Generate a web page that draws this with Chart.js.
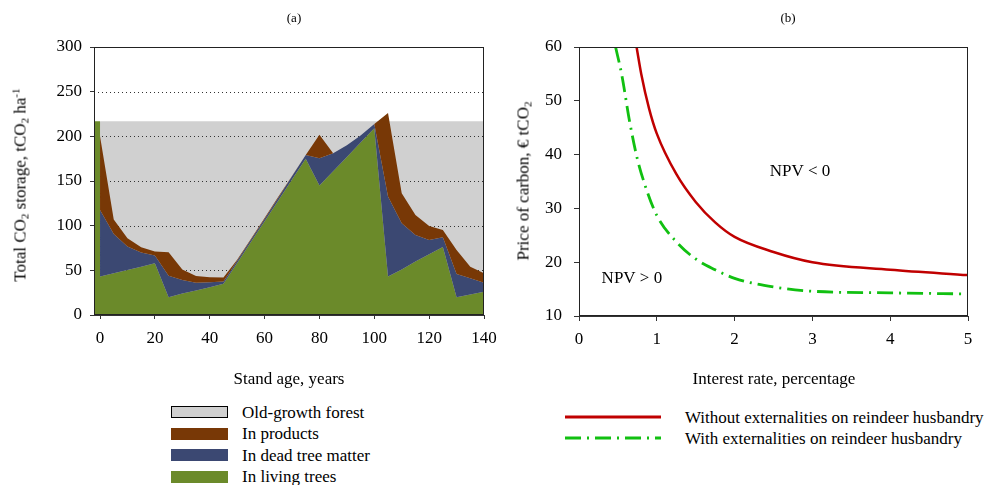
<!DOCTYPE html>
<html><head><meta charset="utf-8">
<script src="https://cdn.jsdelivr.net/npm/chart.js@4.4.0/dist/chart.umd.min.js"></script>
<style>
html,body{margin:0;padding:0;background:#fff;width:994px;height:485px;overflow:hidden;font-family:"Liberation Serif","Times New Roman",serif;color:#000;}
#wrap{position:relative;width:994px;height:485px;}
canvas{position:absolute;top:0;}
.lbl{position:absolute;white-space:nowrap;font-size:17px;line-height:1;transform:translate(-50%,-50%);}
.rot{transform:translate(-50%,-50%) rotate(-90deg);}
sub,sup{font-size:0.65em;line-height:0;}
sub{vertical-align:-0.3em;} sup{vertical-align:0.55em;}
.leg{position:absolute;font-size:17px;line-height:1;white-space:nowrap;}
.row{position:absolute;left:0;display:flex;align-items:center;}
.box{width:57px;height:12px;box-sizing:border-box;}
</style></head>
<body><div id="wrap">
<canvas id="c1" width="497" height="395" style="left:0"></canvas>
<canvas id="c2" width="497" height="395" style="left:497px"></canvas>
<div class="lbl" style="left:294px;top:17px;font-size:13px">(a)</div>
<div class="lbl" style="left:788px;top:17px;font-size:13px">(b)</div>
<div class="lbl rot" style="left:20px;top:185px">Total CO<sub>2</sub> storage, tCO<sub>2</sub> ha<sup>-1</sup></div>
<div class="lbl rot" style="left:523px;top:181px">Price of carbon, € tCO<sub>2</sub></div>
<div class="lbl" style="left:289px;top:378px">Stand age, years</div>
<div class="lbl" style="left:774px;top:378px">Interest rate, percentage</div>
<div class="leg" id="leg1" style="left:171px;top:0"></div>
<div class="leg" id="leg2" style="left:565px;top:0"></div>
</div>
<script>
// ---- Panel (a): CO2 storage by stand age ----
const ageYears = [0,5,10,15,20,25,30,35,40,45,50,55,60,65,70,75,80,85,90,95,100,105,110,115,120,125,130,135,140];
const livingTrees = [43,46.7,50.5,54,58,20,24,27.5,31,35,58.3,81.7,105,128.3,151.7,175,145,161,177,193,209,43,51,60,68,76,20,23,26];
const deadTreeMatter = [74.6,44.1,26.1,15.9,8.5,24,15.2,8.7,5.6,2.5,2.5,2.5,2.5,3,3.5,4,30.6,20,13,8,4.7,89.6,51.7,29.6,16,11,25.9,18,10.2];
const inProducts = [82.4,16.2,9.4,5.9,4.5,26.2,11.8,7.5,5.6,4.5,1,1,1,1,0.5,0,26.1,0,0,0,0,93.4,33.6,22.4,15.7,8.2,26.9,13,10.5];
const oldGrowthStock = 217;
const ageTicks = [0,20,40,60,80,100,120,140];
const storageTicks = [0,50,100,150,200,250,300];
const seriesNamesA = ['Old-growth forest','In products','In dead tree matter','In living trees'];

// ---- Panel (b): carbon price vs interest rate ----
const rateWithout = [0.74,0.8,0.9,1,1.25,1.5,1.75,2,2.5,3,4,5];
const priceWithout = [60,55,48.6,43.9,36.4,31.2,27.4,24.7,21.9,20.0,18.6,17.6];
const rateWith = [0.47,0.55,0.65,0.75,0.87,1,1.25,1.5,1.75,2,2.5,3,4,5];
const priceWith = [60,54.8,46.2,39.2,33.4,28.7,23.8,20.6,18.6,17.0,15.4,14.6,14.3,14.1];
const rateTicks = [0,1,2,3,4,5];
const priceTicks = [10,20,30,40,50,60];
const seriesNamesB = ['Without externalities on reindeer husbandry','With externalities on reindeer husbandry'];
const regionLabels = [{text:'NPV < 0', x:2.84, y:36.8},{text:'NPV > 0', x:0.68, y:17}];

const FONT = "'Liberation Serif','Times New Roman',serif";
const COL = {gray:'#d0d0d0', brown:'#783806', blue:'#3b4872', green:'#6b8a2a', red:'#c00000', lime:'#11c011'};
Chart.defaults.font.family = FONT;
Chart.defaults.color = '#000';

const ageMin = -2.2;
const blueTop = livingTrees.map((v,i)=>v+deadTreeMatter[i]);
const brownTop = blueTop.map((v,i)=>v+inProducts[i]);
const pre = [{x:ageMin,y:oldGrowthStock},{x:0,y:oldGrowthStock}];
const pts = arr => pre.concat(ageYears.map((a,i)=>({x:a,y:arr[i]})));

function fixX(h){ return s => { s.height = h; s.paddingLeft = 0; s.paddingRight = 0; }; }
function fixY(w){ return s => { s.width = w; s.paddingTop = 0; s.paddingBottom = 0; }; }
const setTicks = vals => s => { s.ticks = vals.map(v=>({value:v})); };

const frame = {
  id:'frame',
  afterDatasetsDraw(chart){
    const {ctx, chartArea:a} = chart;
    ctx.save(); ctx.strokeStyle = '#222'; ctx.lineWidth = 1;
    ctx.strokeRect(Math.round(a.left)+0.5, Math.round(a.top)+0.5, Math.round(a.right-a.left)-1, Math.round(a.bottom-a.top)-1);
    ctx.restore();
  }
};
const dottedGrid = {
  id:'dottedGrid',
  afterDatasetDraw(chart, args){
    if (args.index !== 3) return;
    const {ctx, chartArea:a, scales:{y}} = chart;
    ctx.save(); ctx.strokeStyle = '#333'; ctx.lineWidth = 1; ctx.setLineDash([1,3]);
    storageTicks.slice(1,-1).forEach(v=>{
      const py = Math.round(y.getPixelForValue(v)) + 0.5;
      ctx.beginPath(); ctx.moveTo(a.left, py); ctx.lineTo(a.right, py); ctx.stroke();
    });
    ctx.restore();
  }
};
const regionText = {
  id:'regionText',
  afterDatasetsDraw(chart){
    const {ctx, scales:{x,y}} = chart;
    ctx.save(); ctx.font = '17px ' + FONT; ctx.fillStyle = '#000';
    ctx.textAlign = 'center'; ctx.textBaseline = 'middle';
    regionLabels.forEach(l => ctx.fillText(l.text, x.getPixelForValue(l.x), y.getPixelForValue(l.y)));
    ctx.restore();
  }
};

const axisCommon = (tickLen, pad) => ({
  border:{display:true, color:'#333', width:1},
  grid:{drawOnChartArea:false, drawTicks:true, tickLength:tickLen, color:'#333'},
  ticks:{font:{size:17, family:FONT}, color:'#000', padding:pad, autoSkip:false, maxRotation:0}
});

new Chart(document.getElementById('c1'), {
  type:'line',
  data:{datasets:[
    {label:seriesNamesA[1], data:pts(brownTop), backgroundColor:COL.brown, fill:'+1', borderWidth:0, pointRadius:0, tension:0},
    {label:seriesNamesA[2], data:pts(blueTop), backgroundColor:COL.blue, fill:'+1', borderWidth:0, pointRadius:0, tension:0},
    {label:seriesNamesA[3], data:pts(livingTrees), backgroundColor:COL.green, fill:'origin', borderWidth:0, pointRadius:0, tension:0},
    {label:seriesNamesA[0], data:[{x:0,y:oldGrowthStock},{x:ageYears[ageYears.length-1],y:oldGrowthStock}], backgroundColor:COL.gray, fill:'origin', borderWidth:0, pointRadius:0}
  ]},
  options:{
    responsive:false, animation:false, events:[], devicePixelRatio:1,
    layout:{padding:{left:0, top:47, right:13, bottom:0}},
    plugins:{legend:{display:false}, tooltip:{enabled:false}},
    scales:{
      x:Object.assign(axisCommon(4,9), {type:'linear', min:ageMin, max:140, afterBuildTicks:setTicks(ageTicks), afterFit:fixX(80)}),
      y:Object.assign(axisCommon(4,8), {type:'linear', min:0, max:300, afterBuildTicks:setTicks(storageTicks), afterFit:fixY(94)})
    }
  },
  plugins:[dottedGrid, frame]
});

new Chart(document.getElementById('c2'), {
  type:'line',
  data:{datasets:[
    {label:seriesNamesB[0], data:rateWithout.map((r,i)=>({x:r,y:priceWithout[i]})), borderColor:COL.red, borderWidth:2.5, pointRadius:0, fill:false, cubicInterpolationMode:'monotone'},
    {label:seriesNamesB[1], data:rateWith.map((r,i)=>({x:r,y:priceWith[i]})), borderColor:COL.lime, borderWidth:2.8, borderDash:[16,6,2,6], pointRadius:0, fill:false, cubicInterpolationMode:'monotone'}
  ]},
  options:{
    responsive:false, animation:false, events:[], devicePixelRatio:1,
    layout:{padding:{left:0, top:47, right:26, bottom:0}},
    plugins:{legend:{display:false}, tooltip:{enabled:false}},
    scales:{
      x:Object.assign(axisCommon(5,8), {type:'linear', min:0, max:5, afterBuildTicks:setTicks(rateTicks), afterFit:fixX(79)}),
      y:Object.assign(axisCommon(5,12), {type:'linear', min:10, max:60, afterBuildTicks:setTicks(priceTicks), afterFit:fixY(82)})
    }
  },
  plugins:[regionText, frame]
});

// ---- legends ----
const legA = document.getElementById('leg1');
const legAColors = [COL.gray, COL.brown, COL.blue, COL.green];
const legATops = [412, 433.5, 455, 476.5];
seriesNamesA.forEach((n,i)=>{
  const r = document.createElement('div'); r.className='row';
  r.style.top = (legATops[i]-9)+'px'; r.style.height='18px';
  const b = document.createElement('div'); b.className='box'; b.style.background = legAColors[i];
  if (i===0) b.style.border = '1.5px solid #000';
  const t = document.createElement('span'); t.textContent = n; t.style.marginLeft='14px';
  r.appendChild(b); r.appendChild(t); legA.appendChild(r);
});
const legB = document.getElementById('leg2');
const legBTops = [417, 438];
seriesNamesB.forEach((n,i)=>{
  const r = document.createElement('div'); r.className='row';
  r.style.top = (legBTops[i]-9)+'px'; r.style.height='18px';
  const svg = document.createElementNS('http://www.w3.org/2000/svg','svg');
  svg.setAttribute('width','96'); svg.setAttribute('height','6');
  const ln = document.createElementNS('http://www.w3.org/2000/svg','line');
  ln.setAttribute('x1','0'); ln.setAttribute('x2','96'); ln.setAttribute('y1','3'); ln.setAttribute('y2','3');
  ln.setAttribute('stroke', i===0?COL.red:COL.lime); ln.setAttribute('stroke-width', i===0?'3':'2.8');
  if (i===1) ln.setAttribute('stroke-dasharray','16 6 2 6');
  svg.appendChild(ln);
  const t = document.createElement('span'); t.textContent = n; t.style.marginLeft='24px';
  r.appendChild(svg); r.appendChild(t); legB.appendChild(r);
});
</script>
</body></html>
